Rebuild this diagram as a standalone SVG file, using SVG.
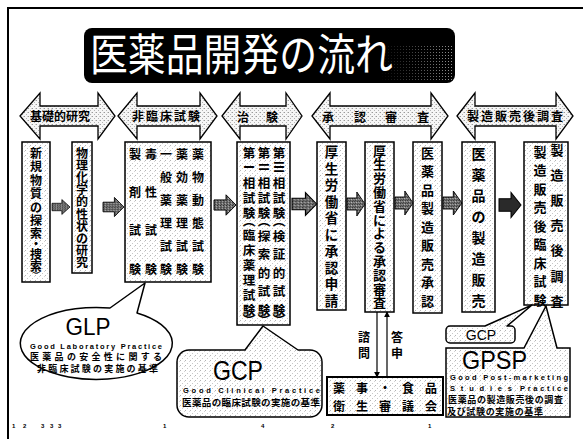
<svg xmlns="http://www.w3.org/2000/svg" width="583" height="439" viewBox="0 0 583 439">
<defs>
  <pattern id="spk" width="5" height="5" patternUnits="userSpaceOnUse">
    <rect width="5" height="5" fill="#ffffff"/>
    <rect x="0" y="0" width="1" height="1" fill="#b4b4b4"/>
    <rect x="2" y="3" width="1" height="1" fill="#c8c8c8"/>
    <rect x="4" y="1" width="1" height="1" fill="#d6d6d6"/>
  </pattern>
  <pattern id="spkA" width="4" height="4" patternUnits="userSpaceOnUse">
    <rect width="4" height="4" fill="#f6f6f6"/>
    <rect x="0" y="0" width="1" height="1" fill="#9a9a9a"/>
    <rect x="2" y="2" width="1" height="1" fill="#b4b4b4"/>
    <rect x="3" y="0" width="1" height="1" fill="#d0d0d0"/>
  </pattern>
  <pattern id="dark" width="3" height="3" patternUnits="userSpaceOnUse">
    <rect width="3" height="3" fill="#707070"/>
    <rect x="0" y="0" width="1" height="1" fill="#2a2a2a"/>
    <rect x="2" y="1" width="1" height="1" fill="#b8b8b8"/>
    <rect x="1" y="2" width="1" height="1" fill="#3a3a3a"/>
  </pattern>
  <pattern id="tspk" width="3" height="3" patternUnits="userSpaceOnUse">
    <rect x="1" y="1" width="1" height="1" fill="#9a9a9a"/>
  </pattern>
  <linearGradient id="tfade" x1="0" y1="0" x2="1" y2="0">
    <stop offset="0" stop-color="#fff" stop-opacity="0"/>
    <stop offset="1" stop-color="#fff" stop-opacity="1"/>
  </linearGradient>
  <mask id="tmask"><rect x="380" y="28" width="75" height="55" fill="url(#tfade)"/></mask>
  <path id="sa" d="M0,-6 H12 V-12 L22,0 L12,12 V6 H0 Z"/>
  <marker id="ah" viewBox="0 0 8 8" refX="7" refY="4" markerWidth="6" markerHeight="6" orient="auto" markerUnits="userSpaceOnUse">
    <path d="M0,0 L8,4 L0,8 Z" fill="#000"/>
  </marker>
</defs>
<style>
  .jp { font-family: "Noto Sans CJK JP", "Noto Sans CJK SC", sans-serif; font-weight: 700; fill: #000; }
  .v { text-anchor: middle; dominant-baseline: central; }
  .en { font-family: "Liberation Sans", Arial, sans-serif; fill: #000; }
  .box { fill: url(#spk); stroke: #000; stroke-width: 1.5; }
  .dbl { fill: url(#spkA); stroke: #000; stroke-width: 1.3; stroke-linejoin: miter; }
  .sm { fill: url(#dark); stroke: #000; stroke-width: 1; }
  .co { fill: url(#spk); stroke: #000; stroke-width: 1.5; stroke-linejoin: round; }
</style>
<rect width="583" height="439" fill="#fff"/>
<path d="M8,439 V8 H583" fill="none" stroke="#000" stroke-width="2"/>

<g id="title">
  <rect x="84" y="28" width="371" height="55" rx="8" fill="#000"/>
  <rect x="380" y="44" width="72" height="38" fill="url(#tspk)" mask="url(#tmask)"/>
  <text x="90" y="71" class="jp" style="font-weight:400;fill:#fff" font-size="44" textLength="303" lengthAdjust="spacingAndGlyphs">医薬品開発の流れ</text>
</g>

<g id="phase-basic">
  <path class="dbl" d="M20,116 L40,93 V106 H98 V93 L115,116 L98,139 V126 H40 V139 Z"/>
  <text class="jp" x="60" y="120.5" font-size="12" text-anchor="middle" textLength="60">基礎的研究</text>
</g>
<g id="phase-nonclinical">
  <path class="dbl" d="M118,116 L137,93 V106 H200 V93 L217,116 L200,139 V126 H137 V139 Z"/>
  <text class="jp" x="166" y="120.5" font-size="12" text-anchor="middle" textLength="68">非臨床試験</text>
</g>
<g id="phase-clinical">
  <path class="dbl" d="M222,116 L240,93 V106 H286 V93 L302,116 L286,139 V126 H240 V139 Z"/>
  <text class="jp v" x="243 272" y="116 116" font-size="12">治験</text>
</g>
<g id="phase-review">
  <path class="dbl" d="M312,116 L330,93 V106 H431 V93 L448,116 L431,139 V126 H330 V139 Z"/>
  <text class="jp v" x="328 360 391 423" y="116 116 116 116" font-size="12">承認審査</text>
</g>
<g id="phase-post">
  <path class="dbl" d="M457,116 L475,93 V106 H556 V93 L573,116 L556,139 V126 H475 V139 Z"/>
  <text class="jp" x="515" y="120.5" font-size="12" text-anchor="middle" textLength="96">製造販売後調査</text>
</g>

<g id="box-discovery">
  <rect class="box" x="22" y="142" width="28" height="140"/>
  <text class="jp v" font-size="12" x="36 36 36 36 36 36 36 36 36 36" y="152 165.5 179 192.5 206 219.5 232.5 243.5 253.5 265">新規物質の探索・捜索</text>
  <text class="jp v" font-size="8" x="36" y="275" transform="rotate(90 36 275)">）</text>
</g>
<g id="box-physchem">
  <rect class="box" x="72" y="142" width="20" height="131"/>
  <text class="jp v" font-size="12" x="82 82 82 82 82 82 82 82 82 82" y="152 164.2 176.4 188.6 200.8 213 225.2 237.4 249.6 261.8">物理化学的性状の研究</text>
</g>
<g id="box-nonclinical">
  <rect class="box" x="125" y="142" width="86" height="140"/>
  <text class="jp v" font-size="12" x="135 135 135 135" y="153 191 229 268">製剤試験</text>
  <text class="jp v" font-size="12" x="151 151 151 151" y="153 191 229 268">毒性試験</text>
  <text class="jp v" font-size="12" x="166 166 166 166 166 166" y="153 176 199 222 245 268">一般薬理試験</text>
  <text class="jp v" font-size="12" x="182 182 182 182 182 182" y="153 176 199 222 245 268">薬効薬理試験</text>
  <text class="jp v" font-size="12" x="198 198 198 198 198 198" y="153 176 199 222 245 268">薬物動態試験</text>
</g>
<g id="box-clinical">
  <rect class="box" x="237" y="142" width="53" height="183"/>
  <text class="jp v" font-size="12.5" x="249 249 249 249" y="152 182 197 212">第相試験</text>
  <text class="jp v" font-size="12.5" x="249" y="167" transform="rotate(90 249 167)">Ⅰ</text>
  <text class="jp v" font-size="12.5" x="249" y="221" transform="rotate(90 249 221)">（</text>
  <text class="jp v" font-size="12.5" x="249 249 249 249 249 249" y="234 249 264 279 294 309">臨床薬理試験</text>
  <text class="jp v" font-size="12.5" x="249" y="320" transform="rotate(90 249 320)">）</text>
  <text class="jp v" font-size="12.5" x="264 264 264 264" y="152 182 197 212">第相試験</text>
  <text class="jp v" font-size="12.5" x="264" y="167" transform="rotate(90 264 167)">Ⅱ</text>
  <text class="jp v" font-size="12.5" x="264" y="221" transform="rotate(90 264 221)">（</text>
  <text class="jp v" font-size="12.5" x="264 264 264 264 264" y="235 253.5 272 290.5 309">探索的試験</text>
  <text class="jp v" font-size="12.5" x="264" y="320" transform="rotate(90 264 320)">）</text>
  <text class="jp v" font-size="12.5" x="279 279 279 279" y="152 182 197 212">第相試験</text>
  <text class="jp v" font-size="12.5" x="279" y="167" transform="rotate(90 279 167)">Ⅲ</text>
  <text class="jp v" font-size="12.5" x="279" y="221" transform="rotate(90 279 221)">（</text>
  <text class="jp v" font-size="12.5" x="279 279 279 279 279" y="235 253.5 272 290.5 309">検証的試験</text>
  <text class="jp v" font-size="12.5" x="279" y="320" transform="rotate(90 279 320)">）</text>
</g>
<g id="box-application">
  <rect class="box" x="317" y="142" width="29" height="168"/>
  <text class="jp v" font-size="13.5" x="331.5 331.5 331.5 331.5 331.5 331.5 331.5 331.5 331.5 331.5" y="151 167.5 184 200.5 217 233.5 250 266.5 283 299.5">厚生労働省に承認申請</text>
</g>
<g id="box-review">
  <rect class="box" x="365" y="142" width="29" height="170"/>
  <text class="jp v" font-size="13" x="379.5 379.5 379.5 379.5 379.5 379.5 379.5 379.5 379.5 379.5 379.5 379.5" y="150 163.8 177.6 191.4 205.2 219 232.8 246.6 260.4 274.2 288 301.8">厚生労働省による承認審査</text>
</g>
<g id="box-approval">
  <rect class="box" x="413" y="142" width="29" height="171"/>
  <text class="jp v" font-size="13" x="427.5 427.5 427.5 427.5 427.5 427.5 427.5 427.5 427.5" y="152 170.5 189 207.5 226 244.5 263 281.5 300">医薬品製造販売承認</text>
</g>
<g id="box-manufacture">
  <rect class="box" x="462" y="142" width="33" height="170"/>
  <text class="jp v" font-size="14" x="478.5 478.5 478.5 478.5 478.5 478.5 478.5 478.5" y="153 174 195 216 237 258 279 300">医薬品の製造販売</text>
</g>
<g id="box-postmarketing">
  <rect class="box" x="524" y="142" width="44" height="163"/>
  <text class="jp v" font-size="13" x="540 540 540 540 540 540 540 540 540" y="151 169.5 188 206.5 225 243.5 262 280.5 299">製造販売後臨床試験</text>
  <text class="jp v" font-size="13" x="557 557 557 557 557 557 557" y="149 174.2 199.4 224.6 249.8 275 300">製造販売後調査</text>
</g>

<g id="connectors">
  <use href="#sa" class="sm" transform="translate(52,207) scale(0.82,0.62)"/>
  <use href="#sa" class="sm" transform="translate(103,207) scale(0.95,0.8)"/>
  <use href="#sa" class="sm" transform="translate(214,205) scale(1,0.85)"/>
  <use href="#sa" class="sm" transform="translate(292,204) scale(1.12,0.95)"/>
  <use href="#sa" class="sm" transform="translate(347,204) scale(0.82,1)"/>
  <use href="#sa" class="sm" transform="translate(395,203) scale(0.82,1)"/>
  <use href="#sa" class="sm" transform="translate(443,203) scale(0.86,1)"/>
  <use href="#sa" class="sm" style="fill:#2a2a2a" transform="translate(499,205) scale(1,1.05)"/>
  <line x1="377" y1="312" x2="377" y2="377" stroke="#000" stroke-width="1.2" marker-end="url(#ah)"/>
  <line x1="387" y1="377" x2="387" y2="312" stroke="#000" stroke-width="1.2" marker-end="url(#ah)"/>
  <text class="jp v" font-size="12" x="364 364" y="336 352">諮問</text>
  <text class="jp v" font-size="12" x="397 397" y="336 352">答申</text>
</g>

<g id="callout-glp">
  <path d="M110,308 L145,283 L137,313 A76,36 0 1 1 110,308 Z" fill="#fff" stroke="#000" stroke-width="1.5" stroke-linejoin="round"/>
  <text class="en" x="88" y="335" font-size="24" text-anchor="middle" textLength="45" lengthAdjust="spacingAndGlyphs">GLP</text>
  <text class="en" x="30" y="349" font-size="7.5" font-weight="700" textLength="132">Good Laboratory Practice</text>
  <text class="jp" x="30" y="360" font-size="9" textLength="132">医薬品の安全性に関する</text>
  <text class="jp" x="37" y="372" font-size="9" textLength="121">非臨床試験の実施の基準</text>
</g>

<g id="callout-gcp">
  <path class="co" d="M189,350 H245 L263,326 L298,350 H310 A12,12 0 0 1 322,362 V405 A12,12 0 0 1 310,417 H189 A12,12 0 0 1 177,405 V362 A12,12 0 0 1 189,350 Z"/>
  <text class="en" x="238" y="380" font-size="27" text-anchor="middle" textLength="50" lengthAdjust="spacingAndGlyphs">GCP</text>
  <text class="en" x="183" y="393" font-size="7.5" font-weight="700" textLength="137">Good Clinical Practice</text>
  <text class="jp" x="182" y="406" font-size="9.5" textLength="138">医薬品の臨床試験の実施の基準</text>
</g>

<g id="council">
  <rect x="327" y="377" width="116" height="38" fill="url(#spk)" stroke="#000" stroke-width="2"/>
  <text class="jp v" font-size="12" x="339 362 385 408 431" y="387 387 387 387 387">薬事・食品</text>
  <text class="jp v" font-size="12" x="339 362 385 408 431" y="405 405 405 405 405">衛生審議会</text>
</g>

<g id="callout-gcp2">
  <path class="co" d="M450,326 H485 L532,305 L507,326 H511 A4,4 0 0 1 515,330 V339 A4,4 0 0 1 511,343 H450 A4,4 0 0 1 446,339 V330 A4,4 0 0 1 450,326 Z"/>
  <text class="en" x="481" y="340" font-size="14" text-anchor="middle">GCP</text>
</g>

<g id="callout-gpsp">
  <path class="co" style="stroke-linejoin:miter" d="M446,348 H524 L546,306 L557,348 H570 V417 H446 Z"/>
  <text class="en" x="462" y="369" font-size="25" textLength="65" lengthAdjust="spacingAndGlyphs">GPSP</text>
  <text class="en" x="450" y="380" font-size="7.5" font-weight="700" textLength="118">Good Post-marketing</text>
  <text class="en" x="450" y="391" font-size="7.5" font-weight="700" textLength="62">Studies</text>
  <text class="en" x="520" y="391" font-size="7.5" font-weight="700" textLength="48">Practice</text>
  <text class="jp" x="448" y="402.5" font-size="9" textLength="115">医薬品の製造販売後の調査</text>
  <text class="jp" x="447" y="414.5" font-size="9" textLength="96">及び試験の実施の基準</text>
</g>

<g id="page-numbers" class="en" font-size="6" font-weight="700">
  <text x="12" y="428">1</text>
  <text x="23" y="428">2</text>
  <text x="41" y="428">3</text>
  <text x="50" y="428">3</text>
  <text x="58" y="428">3</text>
  <text x="163" y="428">1</text>
  <text x="261" y="428">4</text>
  <text x="331" y="428">2</text>
  <text x="428" y="428">1</text>
</g>
</svg>
